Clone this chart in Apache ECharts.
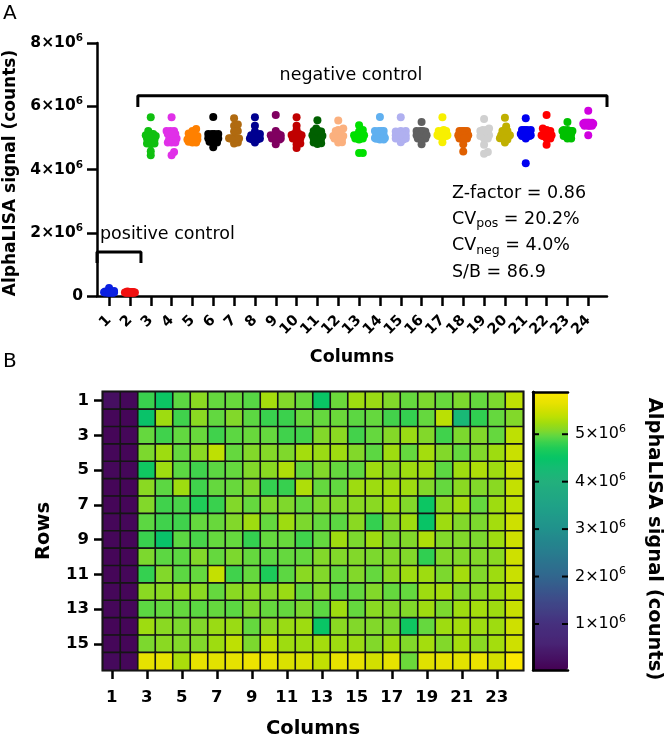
<!DOCTYPE html>
<html><head><meta charset="utf-8">
<script src="https://cdn.jsdelivr.net/npm/echarts@6/dist/echarts.min.js"></script>
<style>html,body{margin:0;padding:0;background:#fff}#c{width:666px;height:739px}</style>
</head><body><div id="c"></div>
<script>
// ---------- DATA (AlphaLISA signal, units of 10^6 counts) ----------
const columns = Array.from({length:24},(_,i)=>String(i+1));
const rows = Array.from({length:16},(_,i)=>String(i+1));
const row1  = [0.25,0.14,4.82,4.55,4.95,5.12,4.98,4.99,4.93,5.25,5.08,4.99,4.52,5.00,5.22,5.20,5.08,4.98,5.06,4.99,5.06,4.98,5.06,5.38];
const row2  = [0.13,0.11,4.45,5.22,4.85,5.12,4.97,5.08,4.95,4.82,4.83,4.99,4.98,5.00,4.95,4.98,4.86,4.80,4.98,5.36,4.20,4.78,4.98,5.08];
const row3  = [0.11,0.12,4.98,4.85,4.97,4.99,4.85,4.95,4.99,4.98,4.85,4.86,5.08,5.12,4.86,4.98,5.09,5.20,5.08,4.85,5.06,5.08,4.98,5.38];
const row4  = [0.12,0.10,5.06,5.22,4.98,5.12,5.38,4.98,5.08,5.09,5.07,5.25,5.20,5.22,5.08,4.95,5.22,4.98,5.25,5.08,4.98,5.08,5.22,5.45];
const row5  = [0.14,0.12,4.58,5.22,4.95,4.85,4.95,4.98,5.08,5.12,5.30,4.98,5.08,4.98,4.97,5.22,5.12,5.22,5.22,4.95,5.22,5.30,5.22,5.48];
const row6  = [0.10,0.11,5.12,4.95,5.22,4.85,4.98,4.99,5.08,4.80,4.81,5.30,4.98,4.97,5.22,5.22,5.25,5.22,5.08,4.98,5.12,5.08,5.12,5.42];
const row7  = [0.11,0.10,5.08,4.85,4.88,4.70,4.82,5.08,4.98,5.08,5.07,4.98,5.08,5.08,5.12,5.12,5.22,5.08,4.55,5.12,5.25,4.98,5.22,5.38];
const row8  = [0.12,0.12,4.95,4.85,4.85,4.98,4.99,5.08,5.22,4.98,5.22,5.06,4.98,4.95,5.12,4.80,5.08,5.22,4.50,5.22,5.08,5.06,5.25,5.48];
const row9  = [0.13,0.11,4.82,4.45,4.95,4.88,4.98,4.98,4.80,4.98,4.99,4.85,4.98,5.22,5.06,5.22,5.06,5.08,5.30,5.08,5.08,5.06,5.22,5.48];
const row10 = [0.11,0.10,5.06,4.95,4.95,5.08,4.98,5.06,4.98,4.95,4.98,4.98,5.08,5.08,5.08,5.06,5.08,5.08,4.78,5.08,5.08,5.08,5.12,5.48];
const row11 = [0.10,0.12,4.80,5.08,4.95,4.98,5.42,4.85,4.98,4.68,4.95,5.12,5.08,4.98,5.08,4.98,5.12,5.22,5.22,5.06,5.25,5.08,5.22,5.45];
const row12 = [0.12,0.11,5.12,5.12,5.14,5.12,4.98,5.12,5.12,5.08,5.20,4.98,5.08,4.95,4.98,5.08,4.98,4.98,5.22,5.25,5.08,5.12,5.22,5.38];
const row13 = [0.13,0.13,4.95,4.98,4.98,4.95,4.98,4.95,5.06,4.98,4.98,5.06,4.95,5.22,4.98,5.12,5.08,5.08,5.22,5.06,5.22,5.25,5.22,5.45];
const row14 = [0.11,0.10,5.22,5.12,5.06,5.08,5.20,5.20,4.98,5.12,5.20,5.22,4.52,5.12,5.08,5.08,5.06,4.57,4.98,5.22,5.25,5.22,5.22,5.48];
const row15 = [0.12,0.11,5.06,5.12,5.08,5.08,5.22,5.38,5.06,5.38,5.22,5.22,5.25,5.22,5.20,5.08,5.22,5.08,5.25,5.08,5.25,5.12,5.25,5.48];
const row16 = [0.16,0.12,5.65,5.65,5.28,5.66,5.62,5.65,5.72,5.65,5.56,5.55,5.40,5.66,5.65,5.50,5.65,5.00,5.60,5.64,5.62,5.72,5.50,5.86];
const signal = [row1,row2,row3,row4,row5,row6,row7,row8,row9,row10,row11,row12,row13,row14,row15,row16];

const yTicksA = [0,2,4,6,8];
const colorbarTicks = [1,2,3,4,5];
const colorMin = 0.03, colorMax = 5.89;
const columnColors = ['#0a1fe0','#f01010','#10c010','#e030e8','#ff8000','#000000','#b06a10','#000090','#800060','#c00000','#006000','#fbb07e',
  '#00e000','#60b0f0','#b0b0f0','#606060','#f8f000','#e06000','#d0d0d0','#c0b000','#0000f0','#ff0000','#00c000','#d000e0'];
const statLines = [['Z-factor',null,'0.86'],['CV','pos','20.2%'],['CV','neg','4.0%'],['S/B',null,'86.9']];

// ---------- STYLE ----------
const FONT = '"DejaVu Sans", Verdana, sans-serif';
const colorStops = [[0.03,'#440154'],[0.6,'#482475'],[1.0,'#46307e'],[1.5,'#3e4a89'],[2.0,'#31668e'],[2.5,'#287c8e'],
  [3.0,'#20918c'],[3.5,'#1fa287'],[4.0,'#22b07c'],[4.3,'#14bc72'],[4.5,'#06c466'],[4.7,'#1ecc58'],[4.85,'#40d24c'],
  [4.97,'#62d840'],[5.08,'#82d82a'],[5.22,'#9edc10'],[5.38,'#bee002'],[5.5,'#d2e000'],[5.65,'#e6e200'],[5.89,'#fce800']];
function h2r(h){return [1,3,5].map(i=>parseInt(h.slice(i,i+2),16));}
function colAt(v){
  for(let i=0;i<colorStops.length-1;i++){
    const [a,ca]=colorStops[i],[b,cb]=colorStops[i+1];
    if(v<=b){const t=Math.max(0,(v-a)/(b-a));const A=h2r(ca),B=h2r(cb);
      return 'rgb('+A.map((x,k)=>Math.round(x+(B[k]-x)*t)).join(',')+')';}
  }
  return colorStops[colorStops.length-1][1];
}
const palette = Array.from({length:160},(_,k)=>colAt(colorMin+(colorMax-colorMin)*k/159));

// ---------- layout of panel A ----------
const gA = {left:97, top:43, width:510, height:253};
const xMinA = 0.42, xMaxA = 24.9;
const pxX = gA.width/(xMaxA-xMinA), pxY = gA.height/8;

function swarm(vals){
  const order = vals.map((v,i)=>i).sort((a,b)=>vals[a]-vals[b]);
  const placed=[], off=new Array(vals.length);
  const cands=[0]; for(let k=1;k<=4;k++){cands.push(k*1.25,-k*1.25);}
  for(const i of order){
    const y=vals[i]*pxY; let best=0,bestD=-1;
    for(const c of cands){
      let md=Infinity; for(const p of placed){md=Math.min(md,Math.hypot(p.x-c,p.y-y));}
      if(md>=3.6){best=c;bestD=Infinity;break;}
      if(md>bestD){bestD=md;best=c;}
    }
    placed.push({x:best,y}); off[i]=best/pxX;
  }
  return off;
}

const colNums = columns.map(Number);
const oddCols = colNums.filter(n=>n%2===1), evenCols = colNums.filter(n=>n%2===0);
const oddRows = rows.map(Number).filter(n=>n%2===1);

const series = [];
columns.forEach((c,ci)=>{
  const vals = signal.map(r=>r[ci]);
  const off = swarm(vals);
  series.push({type:'scatter', xAxisIndex:0, yAxisIndex:0, symbolSize:8, silent:true,
    itemStyle:{color:columnColors[ci], opacity:1},
    data: vals.map((v,k)=>[ci+1+off[k], v])});
});
// brackets (annotation)
series.push({type:'line', xAxisIndex:0, yAxisIndex:0, symbol:'none', silent:true, clip:false,
  lineStyle:{color:'#000', width:3}, data:[[2.38,5.98],[2.38,6.33],[24.9,6.33],[24.9,5.98]]});
series.push({type:'line', xAxisIndex:0, yAxisIndex:0, symbol:'none', silent:true, clip:false,
  lineStyle:{color:'#000', width:3}, data:[[0.42,1.04],[0.42,1.39],[2.53,1.39],[2.53,1.04]]});

const heatIndex = series.length;
const heatData = [];
signal.forEach((r,ri)=>r.forEach((v,ci)=>heatData.push([ci,ri,v])));
series.push({type:'heatmap', xAxisIndex:1, yAxisIndex:1, data:heatData, silent:true,
  itemStyle:{borderColor:'#151515', borderWidth:1.6}});

// colorbar tick marks (inside both edges)
series.push({type:'custom', xAxisIndex:3, yAxisIndex:2, silent:true, z:10, clip:false,
  data: colorbarTicks.map(v=>[0,v]),
  renderItem:(params, api)=>{
    const v = api.value(1);
    const a = api.coord([0,v]), b = api.coord([1,v]);
    const st = {stroke:'#000', lineWidth:2};
    return {type:'group', children:[
      {type:'line', shape:{x1:a[0], y1:a[1], x2:a[0]+6, y2:a[1]}, style:st},
      {type:'line', shape:{x1:b[0]-6, y1:b[1], x2:b[0], y2:b[1]}, style:st}]};
  }});

const supFmt = v => '{a|'+v+'×10}{s|6}';
const labA = {rotate:45, margin:22, color:'#000', fontWeight:'bold', fontSize:14.5, fontFamily:FONT, hideOverlap:false};
const labB = {margin:19, color:'#000', fontWeight:'bold', fontSize:16.5, fontFamily:FONT};
const blackLine = {color:'#000', width:2.5};

const option = {
  animation:false,
  textStyle:{fontFamily:FONT},
  grid:[
    {left:gA.left, top:gA.top, width:gA.width, height:gA.height},
    {left:103, top:392, width:420, height:278, show:true, borderColor:'#000', borderWidth:3, backgroundColor:'transparent'},
    {left:533, top:392, width:35, height:278}
  ],
  xAxis:[
    {type:'value', gridIndex:0, position:'bottom', min:xMinA, max:xMaxA, splitLine:{show:false},
     axisLine:{lineStyle:blackLine},
     axisTick:{customValues:colNums, length:10, lineStyle:blackLine},
     axisLabel:Object.assign({customValues:oddCols}, labA)},
    {type:'category', gridIndex:1, data:columns, position:'bottom',
     axisLine:{show:false}, axisTick:{show:false}, axisLabel:{show:false}},
    {type:'value', gridIndex:2, position:'top', min:0, max:1, z:6, axisLine:{lineStyle:blackLine},
     axisTick:{show:false}, axisLabel:{show:false}, splitLine:{show:false}},
    {type:'value', gridIndex:2, position:'bottom', min:0, max:1, z:6, axisLine:{onZero:false, lineStyle:blackLine},
     axisTick:{show:false}, axisLabel:{show:false}, splitLine:{show:false}},
    {type:'value', gridIndex:0, position:'bottom', min:xMinA, max:xMaxA, splitLine:{show:false},
     axisLine:{show:false}, axisTick:{show:false},
     axisLabel:Object.assign({customValues:evenCols}, labA)},
    {type:'value', gridIndex:1, position:'bottom', min:0.5, max:24.5, splitLine:{show:false},
     axisLine:{show:false},
     axisTick:{show:true, customValues:oddCols, length:9, lineStyle:blackLine},
     axisLabel:Object.assign({customValues:oddCols}, labB)}
  ],
  yAxis:[
    {type:'value', gridIndex:0, min:0, max:8, interval:2, splitLine:{show:false},
     axisLine:{show:true, lineStyle:blackLine},
     axisTick:{show:true, length:10, lineStyle:blackLine},
     axisLabel:{margin:14, color:'#000', formatter:v=>v===0?'{a|0}':supFmt(v),
       rich:{a:{fontSize:15.5, fontWeight:'bold', fontFamily:FONT, color:'#000'}, s:{fontSize:10.5, fontWeight:'bold', fontFamily:FONT, color:'#000', padding:[0,0,9,0]}}}},
    {type:'category', gridIndex:1, data:rows, inverse:true, position:'left',
     axisLine:{show:false}, axisTick:{show:false}, axisLabel:{show:false}},
    {type:'value', gridIndex:2, position:'left', min:colorMin, max:colorMax, z:6,
     axisLine:{show:true, lineStyle:blackLine}, axisTick:{show:false},
     axisLabel:{show:false}, splitLine:{show:false}},
    {type:'value', gridIndex:2, position:'right', min:colorMin, max:colorMax, z:6,
     axisLine:{show:true, lineStyle:blackLine}, axisTick:{show:false},
     axisLabel:{customValues:colorbarTicks, margin:7, color:'#000', formatter:v=>supFmt(v),
       rich:{a:{fontSize:16, fontFamily:FONT, color:'#000'}, s:{fontSize:11, fontFamily:FONT, color:'#000', padding:[0,0,10,0]}}},
     splitLine:{show:false}},
    {type:'value', gridIndex:1, position:'left', min:0.5, max:16.5, inverse:true, splitLine:{show:false},
     axisLine:{show:false},
     axisTick:{show:true, customValues:oddRows, length:9, lineStyle:blackLine},
     axisLabel:Object.assign({customValues:oddRows}, labB, {margin:14})}
  ],
  visualMap:{type:'continuous', min:colorMin, max:colorMax, seriesIndex:heatIndex, calculable:false, hoverLink:false, z:1,
    left:533, top:392, itemWidth:35, itemHeight:278, padding:0, text:null, inRange:{color:palette}},
  series: series,
  graphic:[
    {type:'text', left:3, top:4, style:{text:'A', font:'20px '+FONT, fill:'#000'}},
    {type:'text', left:3, top:352, style:{text:'B', font:'20px '+FONT, fill:'#000'}},
    {type:'text', x:11, y:173, rotation:Math.PI/2, style:{text:'AlphaLISA signal (counts)', font:'bold 17px '+FONT, fill:'#000', textAlign:'center', textVerticalAlign:'middle'}},
    {type:'text', x:352, y:357, style:{text:'Columns', font:'bold 17.5px '+FONT, fill:'#000', textAlign:'center', textVerticalAlign:'middle'}},
    {type:'text', x:351, y:75, style:{text:'negative control', font:'17.5px '+FONT, fill:'#000', textAlign:'center', textVerticalAlign:'middle'}},
    {type:'text', x:100, y:234, style:{text:'positive control', font:'17.5px '+FONT, fill:'#000', textAlign:'left', textVerticalAlign:'middle'}},
    ...statLines.map((l,i)=>({type:'text', x:452, y:193+26.4*i, style:{
      text: l[1] ? '{n|'+l[0]+'}{b|'+l[1]+'}{n| = '+l[2]+'}' : '{n|'+l[0]+' = '+l[2]+'}',
      rich:{n:{fontSize:17.5, fontFamily:FONT, fill:'#000'}, b:{fontSize:12.5, fontFamily:FONT, fill:'#000', padding:[9,0,0,0]}},
      textAlign:'left', textVerticalAlign:'middle'}})),
    {type:'text', x:44, y:531, rotation:Math.PI/2, style:{text:'Rows', font:'bold 19.5px '+FONT, fill:'#000', textAlign:'center', textVerticalAlign:'middle'}},
    {type:'text', x:313, y:729, style:{text:'Columns', font:'bold 19.5px '+FONT, fill:'#000', textAlign:'center', textVerticalAlign:'middle'}},
    {type:'text', x:654, y:539, rotation:-Math.PI/2, style:{text:'AlphaLISA signal (counts)', font:'bold 19.5px '+FONT, fill:'#000', textAlign:'center', textVerticalAlign:'middle'}}
  ]
};
const chart = echarts.init(document.getElementById('c'), null, {renderer:'canvas'});
chart.setOption(option);
</script></body></html>
